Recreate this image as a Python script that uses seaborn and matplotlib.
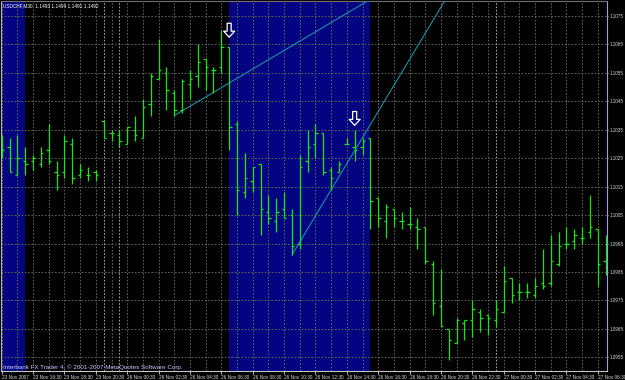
import numpy as np
import pandas as pd
import matplotlib
matplotlib.use("Agg")
import matplotlib.pyplot as plt
import seaborn as sns
from matplotlib.path import Path

# ---------------- data (USDCHF, M30) ----------------
opens = [1.1031, 1.1029, 1.1019, 1.1024, 1.1024, 1.1023, 1.1028, 1.1020, 1.1020, 1.1030,
         1.1019, 1.1019, 1.1020, 1.1038, 1.1034, 1.1033, 1.1030, 1.1035, 1.1032, 1.1044,
         1.1053, 1.1055, 1.1048, 1.1042, 1.1051, 1.1054, 1.1060, 1.1056, 1.1057, 1.1064,
         1.1037, 1.1013, 1.1017, 1.1023, 1.1006, 1.1003, 1.1007, 1.1005, 1.0995, 1.1024,
         1.1030, 1.1034, 1.1021, 1.1020, 1.1030, 1.1029, 1.1029, 1.1032, 1.1011, 1.1003,
         1.1007, 1.1003, 1.1002, 1.1001, 1.1001, 1.0988, 1.0973, 1.0965, 1.0960, 1.0967,
         1.0968, 1.0971, 1.0970, 1.0968, 1.0971, 1.0983, 1.0978, 1.0978, 1.0977, 1.0981,
         1.0981, 1.0988, 1.0995, 1.0996, 1.0997, 1.0999, 1.1000, 1.0989]
highs = [1.1033, 1.1032, 1.1033, 1.1029, 1.1026, 1.1029, 1.1037, 1.1024, 1.1033, 1.1032,
         1.1023, 1.1022, 1.1021, 1.1038, 1.1035, 1.1035, 1.1036, 1.1040, 1.1046, 1.1055,
         1.1067, 1.1057, 1.1049, 1.1053, 1.1056, 1.1065, 1.1060, 1.1057, 1.1070, 1.1064,
         1.1038, 1.1027, 1.1022, 1.1023, 1.1012, 1.1011, 1.1013, 1.1007, 1.1026, 1.1035,
         1.1037, 1.1034, 1.1022, 1.1024, 1.1032, 1.1035, 1.1032, 1.1032, 1.1011, 1.1009,
         1.1007, 1.1006, 1.1008, 1.1004, 1.1001, 1.0989, 1.0986, 1.0965, 1.0969, 1.0968,
         1.0975, 1.0972, 1.0970, 1.0975, 1.0987, 1.0983, 1.0981, 1.0981, 1.0983, 1.0993,
         1.0998, 1.0999, 1.1001, 1.1000, 1.1001, 1.1012, 1.1000, 1.0998]
lows = [1.1025, 1.1020, 1.1019, 1.1019, 1.1021, 1.1022, 1.1023, 1.1014, 1.1018, 1.1016,
        1.1018, 1.1017, 1.1017, 1.1032, 1.1031, 1.1029, 1.1030, 1.1031, 1.1032, 1.1040,
        1.1053, 1.1042, 1.1040, 1.1041, 1.1046, 1.1050, 1.1049, 1.1048, 1.1055, 1.1028,
        1.1005, 1.1011, 1.1013, 1.0998, 1.1002, 1.0999, 1.1004, 1.0991, 1.0993, 1.1020,
        1.1025, 1.1019, 1.1014, 1.1020, 1.1030, 1.1024, 1.1026, 1.1000, 1.1001, 1.0997,
        1.1001, 1.1000, 1.1000, 1.0993, 1.0988, 1.0970, 1.0966, 1.0954, 1.0960, 1.0961,
        1.0962, 1.0964, 1.0963, 1.0966, 1.0971, 1.0974, 1.0975, 1.0976, 1.0976, 1.0979,
        1.0980, 1.0987, 1.0993, 1.0993, 1.0995, 1.0997, 1.0980, 1.0984]
closes = [1.1028, 1.1020, 1.1025, 1.1023, 1.1025, 1.1027, 1.1024, 1.1019, 1.1031, 1.1018,
          1.1021, 1.1019, 1.1019, 1.1032, 1.1034, 1.1031, 1.1036, 1.1033, 1.1043, 1.1054,
          1.1056, 1.1049, 1.1042, 1.1052, 1.1053, 1.1059, 1.1057, 1.1056, 1.1064, 1.1036,
          1.1014, 1.1018, 1.1022, 1.1007, 1.1004, 1.1006, 1.1004, 1.0994, 1.1022, 1.1029,
          1.1034, 1.1020, 1.1018, 1.1023, 1.1030, 1.1028, 1.1031, 1.1010, 1.1004, 1.1008,
          1.1004, 1.1003, 1.1002, 1.1000, 1.0989, 1.0974, 1.0966, 1.0961, 1.0968, 1.0968,
          1.0972, 1.0969, 1.0969, 1.0972, 1.0982, 1.0977, 1.0978, 1.0978, 1.0980, 1.0980,
          1.0989, 1.0994, 1.0995, 1.0998, 1.0997, 1.1001, 1.0988, 1.0989]

time_label_bars = [0, 4, 8, 12, 16, 20, 24, 28, 32, 36, 40, 44, 48, 52, 56, 60, 64, 68, 72, 76]
time_labels = ["23 Nov 2007", "23 Nov 16:30", "23 Nov 18:30", "23 Nov 20:30",
               "26 Nov 00:30", "26 Nov 02:30", "26 Nov 04:30", "26 Nov 06:30",
               "26 Nov 08:30", "26 Nov 10:30", "26 Nov 12:30", "26 Nov 14:30",
               "26 Nov 16:30", "26 Nov 18:30", "26 Nov 20:30", "26 Nov 22:30",
               "27 Nov 00:30", "27 Nov 02:30", "27 Nov 04:30", "27 Nov 06:30"]
day_separator_bars = [13, 15, 63]

price_ticks = [1.0955, 1.0965, 1.0975, 1.0985, 1.0995, 1.1005, 1.1015,
               1.1025, 1.1035, 1.1045, 1.1055, 1.1065, 1.1075]
price_tick_labels = ["1.0955", "1.0965", "1.0975", "1.0985", "1.0995", "1.1005", "1.1015",
                     "1.1025", "1.1035", "1.1045", "1.1055", "1.1065", "1.1075"]

session_starts = [-1, 29]
session_ends = [3, 47]

trend1_bars = [22, 48]
trend1_prices = [1.1040, 1.10825]
trend2_bars = [37, 61]
trend2_prices = [1.0991, 1.1101]

arrow_bars = [29, 45]
arrow_prices = [1.1070, 1.1039]

title_text = "USDCHF,M30  1.1493 1.1494 1.1491 1.1492"
copyright_text = "Interbank FX Trader 4, \u00a9 2001-2007 MetaQuotes Software Corp."

# ---------------- style ----------------
sns.set_theme(style="dark", rc={"axes.facecolor": "black", "figure.facecolor": "black"})
plt.rcParams["font.family"] = ["Liberation Sans", "DejaVu Sans"]

BAR = "#14e614"
BLUE = "#040482"
GRID = "#5c5c5c"
TXT = "#d8d8d8"
TREND = "#1790a8"

df = pd.DataFrame({"bar": np.arange(len(opens)), "open": opens, "high": highs,
                   "low": lows, "close": closes})

fig = plt.figure(figsize=(6.25, 3.8), dpi=100)
ax = fig.add_axes([1 / 625, 9 / 380, 606 / 625, 370 / 380])
ax.set_facecolor("black")
ax.set_axisbelow(True)

# session shading
for s, e in zip(session_starts, session_ends):
    ax.axvspan(s, e, color=BLUE, lw=0, zorder=0.2)

# grid
ax.set_xticks(time_label_bars)
ax.set_xticklabels(time_labels)
ax.set_xticks(np.arange(0, len(opens), 2), minor=True)
ax.set_yticks(price_ticks)
ax.set_yticklabels(price_tick_labels)
ax.grid(True, which="both", axis="x", color=GRID, ls=(0, (1.6, 1.6)), lw=0.75)
ax.grid(True, which="major", axis="y", color=GRID, ls=(0, (1.6, 1.6)), lw=0.75)
for b in day_separator_bars:
    ax.axvline(b, color="#a0a0a0", ls=(0, (1.6, 1.6)), lw=0.75, zorder=0.6)

# OHLC bars
tick = 0.3
ax.vlines(df["bar"], df["low"], df["high"], color=BAR, lw=0.9, zorder=3)
ax.hlines(df["open"], df["bar"] - tick, df["bar"], color=BAR, lw=0.9, zorder=3)
ax.hlines(df["close"], df["bar"], df["bar"] + tick, color=BAR, lw=0.9, zorder=3)

# trend lines
sns.lineplot(x=trend1_bars, y=trend1_prices, ax=ax, color=TREND, lw=0.8, zorder=2.5)
sns.lineplot(x=trend2_bars, y=trend2_prices, ax=ax, color=TREND, lw=0.8, zorder=2.5)

# fractal arrows
arrow_path = Path([(-0.29, 1), (0.29, 1), (0.29, -0.14), (0.79, -0.14), (0, -1),
                   (-0.79, -0.14), (-0.29, -0.14), (-0.29, 1)], closed=True)
ax.scatter(arrow_bars, arrow_prices, marker=arrow_path, s=100, facecolors="none",
           edgecolors="white", linewidths=0.9, zorder=4)

ax.set_xlim(-0.09, 77.17)
ax.set_ylim(1.095022, 1.108027)

# axes decoration
ax.yaxis.tick_right()
ax.tick_params(axis="y", which="major", length=1.0, width=0.6, pad=0.8, labelsize=3.3,
               colors=TXT, right=True, left=False)
ax.tick_params(axis="x", which="major", length=2, width=0.6, pad=1.2, labelsize=3.4,
               colors=TXT, bottom=True)
ax.tick_params(axis="x", which="minor", length=0)
for lbl in ax.get_xticklabels():
    lbl.set_horizontalalignment("left")
ax.set_xlabel("")
ax.set_ylabel("")

for side, col in [("left", "#b4b4b4"), ("top", "#707070"), ("bottom", "#c4c4c4"),
                  ("right", "#9a9aee")]:
    ax.spines[side].set_visible(True)
    ax.spines[side].set_color(col)
    ax.spines[side].set_linewidth(0.8)

ax.text(0.004, 0.994, title_text, transform=ax.transAxes, ha="left", va="top",
        fontsize=3.4, color="white")
ax.text(0.003, 0.004, copyright_text, transform=ax.transAxes, ha="left", va="bottom",
        fontsize=4.5, color="#c8c8ff")

fig.savefig("out.png", dpi=100, facecolor="black")
